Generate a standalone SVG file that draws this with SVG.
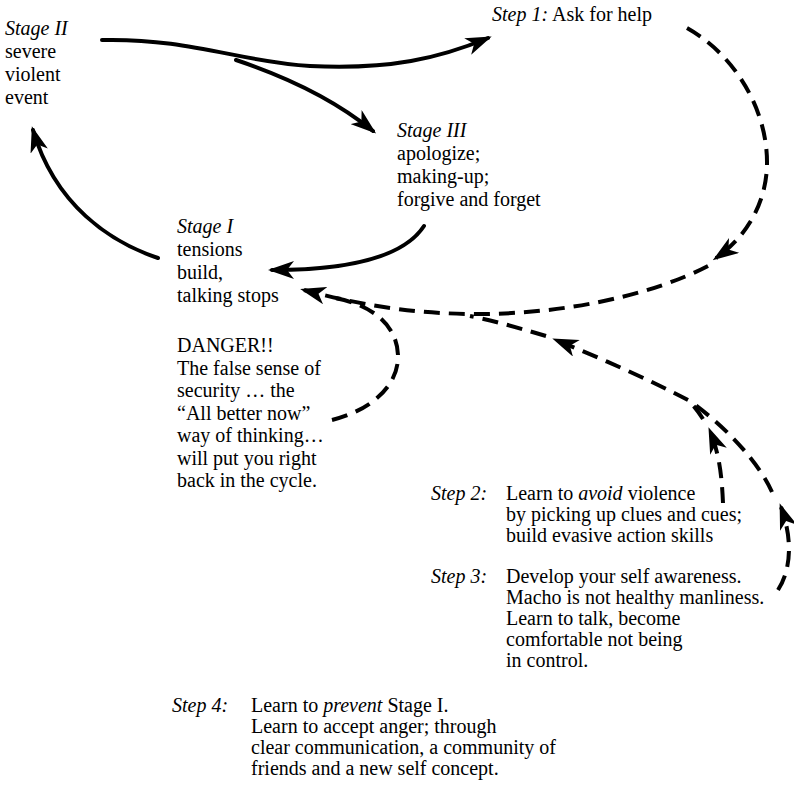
<svg xmlns="http://www.w3.org/2000/svg" width="794" height="787" viewBox="0 0 794 787">
<style>
text{font-family:"Liberation Serif","Times New Roman",serif;font-size:20px;fill:#000}
.i{font-style:italic}
.s{fill:none;stroke:#000;stroke-width:4;stroke-linecap:round}
.d{fill:none;stroke:#000;stroke-width:4;stroke-dasharray:16 9}
</style>
<defs>
<marker id="ah" viewBox="0 0 26 18" refX="22" refY="9" markerWidth="26" markerHeight="18" markerUnits="userSpaceOnUse" orient="auto">
<path d="M0,0 L26,9 L0,18 L7,9 z" fill="#000"/>
</marker>
</defs>
<rect width="794" height="787" fill="#fff"/>
<g id="stage2"><text x="5" y="35"><tspan class="i">Stage II</tspan><tspan x="5" dy="23">severe</tspan><tspan x="5" dy="23">violent</tspan><tspan x="5" dy="23">event</tspan></text></g>
<g id="step1"><text x="492" y="21"><tspan class="i">Step 1:</tspan> Ask for help</text></g>
<g id="stage3"><text x="397" y="137"><tspan class="i">Stage III</tspan><tspan x="397" dy="23">apologize;</tspan><tspan x="397" dy="23">making-up;</tspan><tspan x="397" dy="23">forgive and forget</tspan></text></g>
<g id="stage1"><text x="177" y="233"><tspan class="i">Stage I</tspan><tspan x="177" dy="23">tensions</tspan><tspan x="177" dy="23">build,</tspan><tspan x="177" dy="23">talking stops</tspan></text></g>
<g id="danger"><text x="177" y="352">DANGER!!<tspan x="177" dy="22.5">The false sense of</tspan><tspan x="177" dy="22.5">security … the</tspan><tspan x="177" dy="22.5">“All better now”</tspan><tspan x="177" dy="22.5">way of thinking…</tspan><tspan x="177" dy="22.5">will put you right</tspan><tspan x="177" dy="22.5">back in the cycle.</tspan></text></g>
<g id="step2"><text x="431" y="500" class="i">Step 2:</text><text x="506" y="500">Learn to <tspan class="i">avoid</tspan> violence<tspan x="506" dy="21">by picking up clues and cues;</tspan><tspan x="506" dy="21">build evasive action skills</tspan></text></g>
<g id="step3"><text x="431" y="583" class="i">Step 3:</text><text x="506" y="583">Develop your self awareness.<tspan x="506" dy="21">Macho is not healthy manliness.</tspan><tspan x="506" dy="21">Learn to talk, become</tspan><tspan x="506" dy="21">comfortable not being</tspan><tspan x="506" dy="21">in control.</tspan></text></g>
<g id="step4"><text x="172" y="712" class="i">Step 4:</text><text x="251" y="712">Learn to <tspan class="i">prevent</tspan> Stage I.<tspan x="251" dy="21">Learn to accept anger; through</tspan><tspan x="251" dy="21">clear communication, a community of</tspan><tspan x="251" dy="21">friends and a new self concept.</tspan></text></g>
<g id="connectors">
<path class="s" d="M102,40 C190,38 240,62 310,66 C390,70 440,58 488,38" marker-end="url(#ah)"/>
<path class="s" d="M236,60 C290,78 335,100 373,131" marker-end="url(#ah)"/>
<path class="s" d="M158,258 C110,242 55,205 33,130" marker-end="url(#ah)"/>
<path class="s" d="M424,226 C405,255 355,270 272,270" marker-end="url(#ah)"/>
<path class="d" d="M687,28 C735,55 768,110 767,165 C766,205 745,238 716,258" marker-end="url(#ah)"/>
<path class="d" d="M708,266 C650,296 560,315 470,314 C400,313 350,302 304,290" marker-end="url(#ah)"/>
<path class="d" d="M332,420 C372,410 399,385 398,355 C397,325 372,305 335,298"/>
<path class="d" d="M688,400 C650,380 600,358 556,340" marker-end="url(#ah)"/>
<path class="d" d="M546,336 C525,330 500,322 470,316"/>
<path class="d" d="M723,503 C722,480 720,455 710,431" marker-end="url(#ah)"/>
<path class="d" d="M703,419 C698,411 694,406 688,400"/>
<path class="d" d="M778,590 C791,570 793,540 781,507" marker-end="url(#ah)"/>
<path class="d" d="M772,492 C760,465 730,430 690,401"/>
</g>
</svg>
